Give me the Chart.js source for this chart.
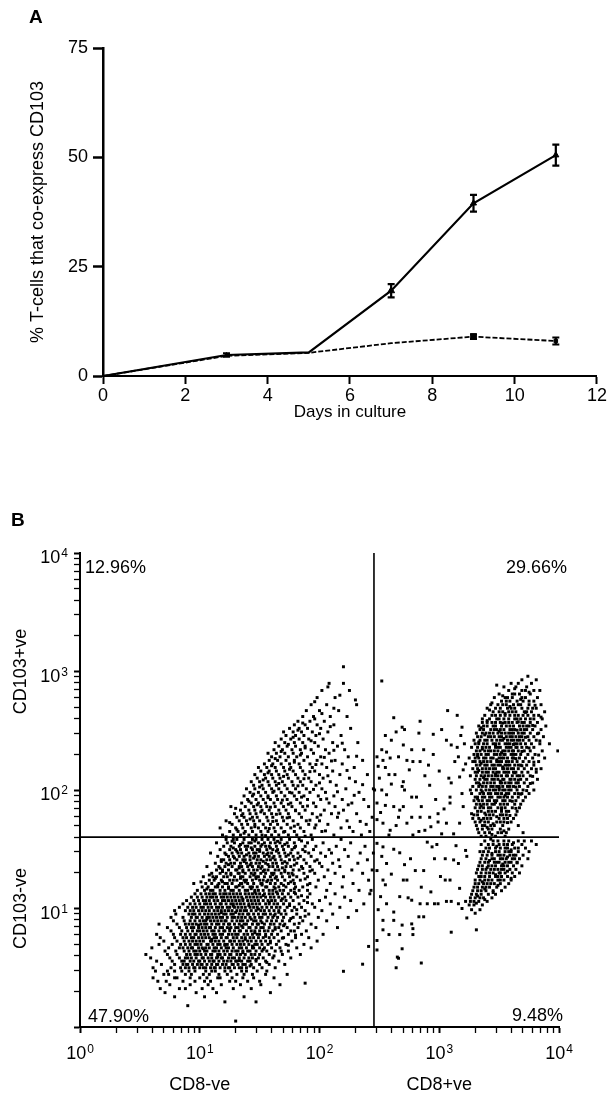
<!DOCTYPE html>
<html>
<head>
<meta charset="utf-8">
<script src="https://cdn.jsdelivr.net/npm/chart.js@4.4.0/dist/chart.umd.min.js"></script>
<style>
  html, body { margin: 0; padding: 0; background: #fff; }
  body { width: 608px; height: 1093px; position: relative; overflow: hidden; font-family: "Liberation Sans", Arial, sans-serif; }
  .panel { position: absolute; font-weight: bold; font-size: 19px; color: #000; line-height: 1.15; }
  #chartA { position: absolute; left: 0; top: 0; }
  #chartB { position: absolute; left: 0; top: 530px; }
</style>
</head>
<body>
<canvas id="chartA" width="608" height="430"></canvas>
<canvas id="chartB" width="608" height="563"></canvas>
<div class="panel" style="left:29px; top:6px">A</div>
<div class="panel" style="left:11px; top:509px">B</div>
<script>
const FONT = '"Liberation Sans", Arial, sans-serif';
Chart.defaults.font.family = FONT;
Chart.defaults.color = '#000';

// ---- panel A: % T-cells co-expressing CD103 over time ----
const days = [0, 3, 5, 7, 9, 11];
const cd103Upper = [0, 4.8, 5.4, 19.5, 39.5, 50.5];
const upperErr = [0, 0.4, 0, 1.5, 1.9, 2.4];
const cd103Lower = [0, 4.6, 5.3, 7.5, 9.0, 8.0];
const lowerErr = [0, 0, 0, 0, 0.5, 0.8];
const xTicksA = [0, 2, 4, 6, 8, 10, 12];
const yTicksA = [0, 25, 50, 75];

// ---- panel B: CD8 vs CD103 flow cytometry dot plot ----
// rows: [log10 CD103, log10 CD8 of each event in that row ...]
const cd8negFringe = [
  [0.050, 1.30],
  [0.180, 0.90],
  [0.212, 1.21, 1.47],
  [0.255, 0.79, 1.04, 1.37],
  [0.290, 0.71, 0.97, 1.14, 1.59],
  [0.324, 0.67, 0.83, 0.88, 1.02, 1.11, 1.28, 1.43],
  [0.357, 0.75, 0.92, 1.07, 1.18, 1.34, 1.51, 1.67],
  [0.386, 0.65, 0.72, 0.86, 0.96, 1.04, 1.09, 1.25, 1.30, 1.40, 1.50],
  [0.415, 0.61, 0.79, 0.81, 0.92, 1.00, 1.06, 1.15, 1.17, 1.27, 1.36, 1.45, 1.62],
  [0.444, 0.70, 0.74, 0.88, 0.93, 1.03, 1.08, 1.16, 1.23, 1.31, 1.37, 1.44, 1.55, 1.73],
  [0.472, 0.63, 0.73, 0.79, 0.85, 0.91, 0.96, 1.05, 1.10, 1.13, 1.21, 1.26, 1.35, 1.39, 1.48, 1.56]
];

const cd8negCore = [
  [0.500, 0.61, 0.76, 0.84, 0.88, 0.91, 0.95, 0.96, 1.00, 1.03, 1.05, 1.09, 1.12, 1.13, 1.17, 1.21, 1.24, 1.25, 1.29, 1.33, 1.35, 1.39, 1.45, 1.52, 1.63],
  [0.528, 0.68, 0.79, 0.86, 0.89, 0.90, 0.94, 0.98, 1.01, 1.02, 1.06, 1.10, 1.14, 1.15, 1.19, 1.22, 1.27, 1.28, 1.32, 1.36, 1.38, 1.43, 1.50, 1.58, 1.71],
  [0.556, 0.64, 0.77, 0.85, 0.87, 0.92, 0.95, 0.99, 1.00, 1.04, 1.08, 1.11, 1.12, 1.16, 1.20, 1.23, 1.26, 1.30, 1.31, 1.35, 1.40, 1.42, 1.47, 1.55, 1.66],
  [0.583, 0.59, 0.75, 0.83, 0.88, 0.90, 0.93, 0.97, 1.02, 1.03, 1.07, 1.10, 1.14, 1.18, 1.19, 1.24, 1.27, 1.29, 1.33, 1.37, 1.41, 1.44, 1.49, 1.53, 1.61, 1.76],
  [0.612, 0.55, 0.73, 0.81, 0.89, 0.92, 0.96, 0.98, 1.01, 1.05, 1.09, 1.10, 1.15, 1.17, 1.21, 1.25, 1.26, 1.31, 1.34, 1.38, 1.43, 1.46, 1.50, 1.58, 1.69, 1.84],
  [0.641, 0.71, 0.80, 0.87, 0.91, 0.95, 0.97, 1.00, 1.04, 1.06, 1.11, 1.13, 1.16, 1.20, 1.23, 1.27, 1.30, 1.32, 1.36, 1.40, 1.42, 1.47, 1.52, 1.56, 1.63, 1.74],
  [0.668, 0.60, 0.74, 0.83, 0.86, 0.90, 0.93, 0.94, 0.99, 1.02, 1.05, 1.08, 1.12, 1.14, 1.18, 1.22, 1.24, 1.28, 1.33, 1.35, 1.39, 1.44, 1.45, 1.50, 1.54, 1.60, 1.67, 1.81, 1.93],
  [0.697, 0.66, 0.77, 0.84, 0.88, 0.92, 0.96, 0.98, 1.01, 1.06, 1.07, 1.11, 1.15, 1.17, 1.21, 1.23, 1.27, 1.31, 1.34, 1.37, 1.41, 1.46, 1.48, 1.52, 1.57, 1.64, 1.72, 1.87],
  [0.725, 0.70, 0.81, 0.87, 0.91, 0.94, 0.97, 1.00, 1.03, 1.09, 1.10, 1.13, 1.16, 1.20, 1.25, 1.26, 1.29, 1.33, 1.36, 1.40, 1.43, 1.47, 1.51, 1.55, 1.59, 1.66, 1.77, 1.98],
  [0.754, 0.67, 0.79, 0.86, 0.89, 0.93, 0.95, 0.99, 1.02, 1.05, 1.08, 1.12, 1.14, 1.18, 1.22, 1.23, 1.28, 1.31, 1.35, 1.38, 1.42, 1.45, 1.49, 1.53, 1.58, 1.62, 1.70, 1.80, 1.91],
  [0.782, 0.64, 0.78, 0.84, 0.88, 0.92, 0.96, 0.97, 1.01, 1.04, 1.07, 1.11, 1.13, 1.17, 1.19, 1.24, 1.27, 1.30, 1.32, 1.37, 1.40, 1.44, 1.48, 1.50, 1.55, 1.60, 1.65, 1.74, 1.85, 2.03],
  [0.811, 0.76, 0.85, 0.90, 0.94, 0.98, 1.00, 1.03, 1.06, 1.10, 1.12, 1.16, 1.20, 1.21, 1.25, 1.29, 1.33, 1.34, 1.39, 1.43, 1.46, 1.50, 1.54, 1.57, 1.61, 1.68, 1.76, 1.89],
  [0.839, 0.73, 0.83, 0.89, 0.93, 0.95, 0.99, 1.02, 1.05, 1.08, 1.09, 1.13, 1.17, 1.19, 1.23, 1.26, 1.30, 1.32, 1.36, 1.41, 1.42, 1.47, 1.51, 1.53, 1.58, 1.63, 1.66, 1.73, 1.82, 1.97, 2.15],
  [0.868, 0.66, 0.81, 0.88, 0.91, 0.94, 0.97, 1.01, 1.04, 1.06, 1.10, 1.14, 1.16, 1.20, 1.24, 1.25, 1.29, 1.33, 1.37, 1.39, 1.44, 1.48, 1.49, 1.54, 1.59, 1.62, 1.67, 1.71, 1.79, 1.93],
  [0.896, 0.78, 0.87, 0.92, 0.96, 1.00, 1.03, 1.05, 1.09, 1.12, 1.15, 1.18, 1.21, 1.22, 1.27, 1.31, 1.34, 1.36, 1.40, 1.45, 1.47, 1.51, 1.56, 1.60, 1.64, 1.69, 1.75, 1.86, 2.06],
  [0.925, 0.76, 0.86, 0.93, 0.97, 0.98, 1.02, 1.06, 1.08, 1.11, 1.14, 1.17, 1.19, 1.23, 1.27, 1.29, 1.32, 1.35, 1.38, 1.42, 1.46, 1.50, 1.52, 1.57, 1.61, 1.65, 1.70, 1.78, 1.84, 1.99, 2.24],
  [0.953, 0.80, 0.91, 0.94, 0.96, 1.00, 1.04, 1.07, 1.10, 1.13, 1.16, 1.20, 1.22, 1.26, 1.28, 1.33, 1.36, 1.40, 1.41, 1.45, 1.49, 1.53, 1.55, 1.59, 1.63, 1.68, 1.72, 1.81, 1.91, 2.11],
  [0.982, 0.79, 0.88, 0.92, 0.95, 0.99, 1.02, 1.05, 1.08, 1.12, 1.15, 1.18, 1.21, 1.24, 1.27, 1.31, 1.34, 1.37, 1.39, 1.43, 1.47, 1.51, 1.54, 1.58, 1.62, 1.66, 1.71, 1.77, 1.88, 2.02, 2.31],
  [1.010, 0.83, 0.90, 0.94, 0.97, 1.01, 1.03, 1.07, 1.10, 1.14, 1.16, 1.19, 1.23, 1.25, 1.29, 1.32, 1.35, 1.38, 1.42, 1.45, 1.48, 1.52, 1.56, 1.60, 1.64, 1.67, 1.73, 1.79, 1.85, 1.96, 2.17],
  [1.039, 0.86, 0.92, 0.96, 1.00, 1.04, 1.06, 1.09, 1.13, 1.17, 1.18, 1.22, 1.26, 1.28, 1.31, 1.34, 1.37, 1.41, 1.44, 1.47, 1.50, 1.55, 1.58, 1.62, 1.65, 1.70, 1.75, 1.83, 1.94, 2.09, 2.37],
  [1.067, 0.89, 0.95, 0.99, 1.03, 1.05, 1.08, 1.12, 1.15, 1.19, 1.21, 1.24, 1.27, 1.30, 1.33, 1.36, 1.40, 1.43, 1.46, 1.49, 1.53, 1.57, 1.60, 1.63, 1.68, 1.72, 1.78, 1.87, 2.00, 2.26],
  [1.096, 0.93, 0.98, 1.02, 1.06, 1.09, 1.11, 1.14, 1.18, 1.20, 1.23, 1.26, 1.29, 1.32, 1.35, 1.39, 1.42, 1.45, 1.48, 1.51, 1.55, 1.59, 1.62, 1.66, 1.71, 1.76, 1.82, 1.90, 2.05, 2.21],
  [1.124, 0.96, 1.01, 1.05, 1.08, 1.11, 1.13, 1.17, 1.20, 1.22, 1.25, 1.28, 1.31, 1.34, 1.38, 1.41, 1.44, 1.47, 1.50, 1.54, 1.58, 1.61, 1.65, 1.69, 1.74, 1.80, 1.92, 2.13, 2.42]
];

const cd8negBand = [
  [1.153, 0.98, 1.04, 1.09, 1.11, 1.17, 1.21, 1.26, 1.28, 1.33, 1.38, 1.40, 1.46, 1.49, 1.53, 1.58, 1.61, 1.67, 1.70, 1.76, 1.83, 1.90, 2.06, 2.33, 2.43],
  [1.182, 1.02, 1.07, 1.13, 1.15, 1.19, 1.24, 1.30, 1.31, 1.36, 1.42, 1.44, 1.48, 1.55, 1.56, 1.62, 1.66, 1.72, 1.80, 1.86, 1.97, 2.19],
  [1.211, 0.95, 1.05, 1.10, 1.16, 1.21, 1.23, 1.27, 1.34, 1.35, 1.40, 1.45, 1.51, 1.52, 1.59, 1.63, 1.68, 1.74, 1.79, 1.92, 2.09, 2.28],
  [1.239, 1.08, 1.12, 1.18, 1.25, 1.28, 1.31, 1.37, 1.39, 1.44, 1.50, 1.53, 1.57, 1.60, 1.65, 1.71, 1.78, 1.84, 1.99, 2.41],
  [1.268, 1.03, 1.11, 1.14, 1.20, 1.23, 1.29, 1.34, 1.36, 1.42, 1.47, 1.49, 1.54, 1.59, 1.64, 1.69, 1.75, 1.81, 1.90, 2.04, 2.20],
  [1.297, 1.10, 1.17, 1.22, 1.26, 1.32, 1.33, 1.38, 1.43, 1.46, 1.51, 1.55, 1.60, 1.62, 1.68, 1.74, 1.77, 1.87, 1.96, 2.13, 2.36],
  [1.325, 1.14, 1.19, 1.24, 1.30, 1.31, 1.36, 1.41, 1.45, 1.48, 1.54, 1.57, 1.63, 1.66, 1.71, 1.78, 1.83, 1.94, 2.07, 2.27, 2.44],
  [1.354, 1.06, 1.16, 1.21, 1.27, 1.33, 1.35, 1.40, 1.44, 1.49, 1.52, 1.58, 1.61, 1.65, 1.72, 1.76, 1.85, 1.92, 2.02, 2.17],
  [1.382, 1.13, 1.22, 1.26, 1.29, 1.34, 1.39, 1.43, 1.47, 1.50, 1.55, 1.61, 1.64, 1.69, 1.73, 1.81, 1.89, 2.00, 2.11, 2.32],
  [1.411, 1.18, 1.20, 1.25, 1.31, 1.36, 1.38, 1.42, 1.48, 1.51, 1.56, 1.59, 1.63, 1.68, 1.75, 1.79, 1.87, 1.98, 2.16, 2.40],
  [1.440, 1.15, 1.24, 1.28, 1.33, 1.37, 1.42, 1.46, 1.49, 1.54, 1.58, 1.62, 1.67, 1.72, 1.78, 1.84, 1.93, 2.05, 2.24],
  [1.468, 1.09, 1.21, 1.27, 1.32, 1.35, 1.41, 1.45, 1.47, 1.53, 1.57, 1.60, 1.66, 1.71, 1.76, 1.82, 1.91, 2.01, 2.10, 2.34, 2.45],
  [1.497, 1.17, 1.25, 1.30, 1.34, 1.39, 1.44, 1.48, 1.50, 1.56, 1.61, 1.65, 1.70, 1.77, 1.86, 1.95, 2.08, 2.21],
  [1.525, 1.20, 1.26, 1.33, 1.38, 1.40, 1.46, 1.51, 1.55, 1.58, 1.64, 1.69, 1.74, 1.80, 1.88, 1.97, 2.14, 2.38],
  [1.554, 1.14, 1.23, 1.29, 1.36, 1.41, 1.43, 1.49, 1.54, 1.59, 1.63, 1.67, 1.73, 1.79, 1.90, 2.03, 2.26],
  [1.583, 1.22, 1.28, 1.31, 1.37, 1.44, 1.47, 1.52, 1.57, 1.62, 1.68, 1.75, 1.83, 1.94, 2.18]
];

const cd8negUpperRows = [
  [1.62, 1.19, 1.28, 1.34, 1.41, 1.47, 1.52, 1.60, 1.66, 1.74, 1.81, 1.93, 2.12, 2.35],
  [1.65, 1.25, 1.32, 1.38, 1.44, 1.51, 1.57, 1.63, 1.71, 1.79, 1.87, 2.02, 2.28, 2.42],
  [1.68, 1.17, 1.30, 1.36, 1.43, 1.49, 1.55, 1.62, 1.68, 1.76, 1.84, 1.96, 2.18],
  [1.71, 1.27, 1.35, 1.40, 1.46, 1.53, 1.59, 1.65, 1.73, 1.82, 1.91, 2.07, 2.39],
  [1.74, 1.22, 1.33, 1.39, 1.45, 1.50, 1.57, 1.64, 1.70, 1.78, 1.89, 2.00, 2.23],
  [1.77, 1.31, 1.37, 1.44, 1.48, 1.56, 1.61, 1.69, 1.75, 1.85, 1.98, 2.15, 2.44],
  [1.80, 1.29, 1.36, 1.42, 1.47, 1.54, 1.60, 1.67, 1.74, 1.83, 1.94, 2.10, 2.31],
  [1.83, 1.34, 1.41, 1.46, 1.52, 1.58, 1.66, 1.72, 1.80, 1.88, 2.04, 2.20],
  [1.86, 1.26, 1.38, 1.45, 1.51, 1.56, 1.63, 1.70, 1.77, 1.86, 1.97, 2.13, 2.41],
  [1.89, 1.35, 1.43, 1.49, 1.55, 1.62, 1.68, 1.76, 1.84, 1.95, 2.08, 2.27],
  [1.92, 1.40, 1.47, 1.53, 1.59, 1.65, 1.73, 1.81, 1.90, 2.01, 2.19, 2.37],
  [1.95, 1.37, 1.44, 1.51, 1.57, 1.64, 1.71, 1.79, 1.87, 1.99, 2.12],
  [1.98, 1.42, 1.49, 1.55, 1.61, 1.68, 1.75, 1.83, 1.92, 2.05, 2.33],
  [2.01, 1.39, 1.46, 1.53, 1.60, 1.66, 1.73, 1.80, 1.89, 2.02, 2.22, 2.45],
  [2.04, 1.45, 1.52, 1.58, 1.64, 1.71, 1.78, 1.86, 1.97, 2.14],
  [2.07, 1.43, 1.50, 1.57, 1.63, 1.69, 1.77, 1.84, 1.93, 2.09, 2.30],
  [2.10, 1.48, 1.55, 1.61, 1.67, 1.74, 1.82, 1.91, 2.03, 2.25],
  [2.13, 1.46, 1.54, 1.60, 1.66, 1.73, 1.80, 1.88, 2.00, 2.17, 2.40],
  [2.16, 1.51, 1.58, 1.64, 1.71, 1.78, 1.86, 1.96, 2.11],
  [2.19, 1.49, 1.56, 1.63, 1.70, 1.76, 1.84, 1.94, 2.06, 2.29],
  [2.22, 1.54, 1.61, 1.68, 1.75, 1.83, 1.92, 2.02, 2.19],
  [2.25, 1.58, 1.65, 1.72, 1.79, 1.87, 1.98, 2.13, 2.36],
  [2.28, 1.60, 1.67, 1.74, 1.81, 1.90, 2.01, 2.24],
  [2.31, 1.57, 1.64, 1.71, 1.78, 1.85, 1.95, 2.08],
  [2.34, 1.62, 1.69, 1.77, 1.84, 1.93, 2.05, 2.21],
  [2.37, 1.66, 1.73, 1.80, 1.88, 1.99, 2.15],
  [2.40, 1.63, 1.71, 1.79, 1.86, 1.96, 2.11, 2.32],
  [2.43, 1.68, 1.76, 1.83, 1.91, 2.03],
  [2.46, 1.72, 1.80, 1.87, 1.97, 2.18],
  [2.49, 1.70, 1.78, 1.85, 1.94, 2.07],
  [2.52, 1.75, 1.83, 1.90, 2.01, 2.26],
  [2.55, 1.79, 1.88, 1.98, 2.12],
  [2.58, 1.82, 1.92, 2.04],
  [2.62, 1.86, 1.95, 2.09, 2.23],
  [2.67, 1.89, 2.00, 2.16],
  [2.72, 1.93, 2.06, 2.31],
  [2.78, 1.98, 2.13],
  [2.84, 2.02, 2.25],
  [2.90, 2.08, 2.20],
  [3.04, 2.20]
];

// single events, [log10 CD8, log10 CD103, ...]
const cd8negCoreExtra = [
  1.42,0.515, 1.56,0.545, 1.47,0.57, 1.62,0.60, 1.36,0.627, 1.53,0.655, 1.68,0.64, 1.44,0.683, 1.59,0.71, 1.74,0.69,
  1.38,0.74, 1.55,0.765, 1.69,0.75, 1.80,0.775, 1.46,0.795, 1.63,0.825, 1.79,0.81, 1.35,0.853, 1.52,0.88, 1.70,0.855,
  1.83,0.875, 1.43,0.91, 1.62,0.94, 1.76,0.915, 1.88,0.935, 1.30,0.967, 1.49,0.995, 1.66,0.968, 1.81,0.99, 1.41,1.024,
  1.58,1.052, 1.75,1.025, 1.90,1.05, 1.36,1.08, 1.53,1.11, 1.69,1.082, 1.85,1.108, 1.46,1.138, 1.64,1.14, 1.79,1.135,
  1.18,0.965, 1.10,0.74, 1.25,0.83, 1.06,0.91, 1.21,0.69, 1.15,0.59, 0.99,0.86, 1.28,1.02, 1.03,0.66, 1.33,0.56
];
const cd8negBandExtra = [
  1.06,1.165, 1.24,1.17, 1.43,1.167, 1.63,1.17, 1.79,1.165, 1.15,1.197, 1.33,1.195, 1.52,1.198, 1.70,1.196, 1.90,1.20,
  1.01,1.225, 1.19,1.226, 1.38,1.224, 1.56,1.227, 1.76,1.225, 1.13,1.254, 1.34,1.255, 1.47,1.252, 1.63,1.256, 1.88,1.25,
  1.08,1.283, 1.26,1.284, 1.45,1.282, 1.61,1.285, 1.78,1.283, 1.19,1.312, 1.36,1.31, 1.53,1.313, 1.71,1.31, 1.92,1.315,
  1.17,1.34, 1.33,1.342, 1.51,1.339, 1.69,1.343, 1.86,1.338, 1.24,1.37, 1.42,1.368, 1.57,1.371, 1.79,1.367,
  1.18,1.397, 1.37,1.396, 1.53,1.398, 1.71,1.395, 1.96,1.40, 1.29,1.426, 1.45,1.425, 1.61,1.427, 1.82,1.424,
  1.22,1.455, 1.39,1.453, 1.56,1.456, 1.74,1.452, 1.31,1.483, 1.50,1.482, 1.64,1.484, 1.88,1.48,
  1.28,1.511, 1.43,1.512, 1.59,1.51, 1.79,1.513, 1.34,1.54, 1.52,1.539, 1.71,1.541, 1.27,1.568, 1.46,1.569, 1.65,1.567, 1.85,1.57
];
const cd8negUpperExtra = [
  1.22,1.605, 1.37,1.635, 1.55,1.615, 1.70,1.645, 1.88,1.61, 2.05,1.655, 1.31,1.665, 1.46,1.69, 1.58,1.675, 1.79,1.695, 1.97,1.705, 2.25,1.685,
  1.25,1.725, 1.42,1.755, 1.61,1.735, 1.73,1.765, 1.92,1.745, 2.34,1.735, 1.35,1.785, 1.51,1.815, 1.64,1.795, 1.80,1.825, 2.01,1.79, 2.16,1.805,
  1.30,1.845, 1.48,1.875, 1.59,1.855, 1.74,1.88, 1.90,1.865, 2.24,1.875, 1.41,1.905, 1.57,1.935, 1.69,1.915, 1.85,1.94, 2.06,1.925, 2.29,1.955,
  1.45,1.965, 1.62,1.99, 1.77,1.975, 1.95,2.005, 2.15,1.985, 1.50,2.025, 1.66,2.055, 1.82,2.035, 2.00,2.06, 2.36,2.045, 1.53,2.085, 1.70,2.115,
  1.87,2.095, 2.07,2.12, 1.57,2.145, 1.75,2.175, 1.92,2.155, 2.23,2.165, 1.60,2.205, 1.79,2.235, 1.97,2.215, 2.10,2.245, 1.63,2.265, 1.84,2.295,
  2.04,2.275, 2.31,2.285, 1.68,2.325, 1.88,2.355, 2.12,2.335, 1.74,2.385, 1.93,2.415, 2.19,2.395, 1.78,2.445, 2.00,2.475, 1.82,2.505, 2.09,2.535,
  1.86,2.565, 1.96,2.60, 2.02,2.645, 2.12,2.69, 1.96,2.745, 2.17,2.80, 2.07,2.87, 2.30,2.76
];

// scattered events between the two populations: [log10 CD8, log10 CD103, ...]
const midUpper = [
  2.52,2.92, 2.84,2.58, 3.07,2.67, 3.15,2.63, 2.69,2.53, 2.71,2.51, 2.64,2.49, 2.55,2.46, 2.60,2.42,
  2.83,2.48, 3.02,2.51, 3.06,2.42, 3.19,2.53, 3.18,2.46, 3.10,2.38, 3.15,2.36, 3.21,2.39, 2.70,2.38,
  2.77,2.34, 2.87,2.34, 2.95,2.30, 2.52,2.34, 2.56,2.32, 2.48,2.28, 2.53,2.25, 2.59,2.27, 2.66,2.28,
  2.73,2.25, 2.78,2.24, 2.84,2.24, 2.91,2.21, 2.49,2.20, 2.55,2.19, 2.58,2.13, 2.63,2.13, 2.50,2.10,
  2.70,2.07, 2.69,2.03, 2.71,2.00, 2.77,1.94, 2.81,1.94, 2.92,2.04, 3.08,2.10, 3.10,2.06, 3.09,1.94,
  3.19,1.97, 3.20,1.86, 3.09,1.89, 2.46,2.00, 2.52,2.00, 2.56,1.96, 2.48,1.89, 2.55,1.87, 2.62,1.86,
  2.67,1.83, 2.70,1.86, 2.66,1.77, 2.73,1.72, 2.77,1.77, 2.85,1.86, 2.84,1.77, 2.92,1.77, 2.99,1.80,
  2.48,1.75, 2.53,1.72, 2.59,1.66, 2.83,1.65, 2.88,1.66, 3.02,1.63, 3.12,1.63, 3.17,1.72, 2.58,1.62,
  2.78,1.62, 2.99,1.73, 3.06,1.72, 3.17,2.11, 3.20,2.17, 3.22,2.22, 3.16,2.28, 2.62,2.61, 2.95,2.47,
  3.00,2.16, 2.88,2.12, 2.60,2.05, 2.97,1.92, 2.75,2.17, 3.13,2.24, 2.51,1.81, 2.64,1.70, 3.04,1.84,
  2.93,1.69
];
const midLower = [
  2.48,1.55, 2.53,1.52, 2.52,1.44, 2.56,1.38, 2.48,1.32, 2.67,1.47, 2.76,1.42, 2.71,1.37, 2.80,1.32,
  2.87,1.32, 2.90,1.56, 2.94,1.52, 2.98,1.54, 2.96,1.42, 3.05,1.42, 3.12,1.41, 3.01,1.27, 3.05,1.24,
  3.09,1.24, 3.16,1.38, 3.22,1.49, 3.23,1.44, 2.53,1.24, 2.55,1.20, 2.51,1.10, 2.56,1.04, 2.49,0.99,
  2.70,1.24, 2.73,1.24, 2.67,1.10, 2.74,1.09, 2.77,1.07, 2.84,1.04, 2.90,1.04, 2.96,1.04, 2.99,1.04,
  3.06,1.06, 3.10,1.06, 3.16,1.04, 3.17,1.17, 3.22,1.06, 3.19,1.00, 2.62,0.97, 2.53,0.90, 2.62,0.90,
  2.69,0.86, 2.77,0.87, 2.87,0.93, 2.78,0.83, 2.83,0.93, 2.53,0.82, 2.58,0.78, 2.67,0.78, 2.78,0.78,
  3.10,0.80, 3.31,0.82, 3.23,0.92, 2.48,0.73, 2.69,0.66, 2.48,0.65, 2.66,0.58, 2.64,0.50, 2.85,0.54,
  2.65,0.59, 2.36,0.53, 2.20,0.47, 1.88,0.37, 2.41,0.68, 2.62,1.50, 2.85,1.18, 2.60,1.29, 3.14,1.53,
  2.93,1.14
];

const cd8posUpperRows = [
  [2.96, 3.74],
  [2.93, 3.69, 3.81],
  [2.90, 3.60, 3.66, 3.77],
  [2.87, 3.54, 3.64, 3.73],
  [2.84, 3.58, 3.69, 3.72, 3.79, 3.84],
  [2.81, 3.50, 3.61, 3.63, 3.67, 3.76],
  [2.78, 3.46, 3.55, 3.57, 3.61, 3.69, 3.72, 3.82],
  [2.75, 3.52, 3.56, 3.59, 3.65, 3.70, 3.75, 3.79],
  [2.72, 3.43, 3.49, 3.53, 3.56, 3.62, 3.66, 3.68, 3.75, 3.85],
  [2.69, 3.40, 3.47, 3.51, 3.57, 3.60, 3.63, 3.69, 3.74, 3.78, 3.81],
  [2.66, 3.45, 3.50, 3.53, 3.58, 3.61, 3.64, 3.71, 3.73, 3.77, 3.88],
  [2.63, 3.38, 3.44, 3.47, 3.51, 3.55, 3.59, 3.63, 3.66, 3.70, 3.74, 3.79, 3.83],
  [2.60, 3.36, 3.42, 3.48, 3.50, 3.54, 3.58, 3.63, 3.65, 3.68, 3.72, 3.76, 3.79, 3.86],
  [2.57, 3.36, 3.40, 3.44, 3.47, 3.51, 3.55, 3.58, 3.61, 3.65, 3.69, 3.71, 3.76, 3.82],
  [2.54, 3.33, 3.37, 3.40, 3.45, 3.47, 3.52, 3.56, 3.59, 3.62, 3.67, 3.70, 3.73, 3.75, 3.80, 3.89],
  [2.51, 3.34, 3.37, 3.43, 3.46, 3.48, 3.51, 3.54, 3.59, 3.61, 3.63, 3.68, 3.71, 3.73, 3.78, 3.85],
  [2.48, 3.31, 3.36, 3.39, 3.42, 3.45, 3.49, 3.52, 3.55, 3.58, 3.60, 3.62, 3.66, 3.69, 3.71, 3.76, 3.83],
  [2.45, 3.32, 3.35, 3.41, 3.43, 3.46, 3.50, 3.52, 3.56, 3.59, 3.61, 3.64, 3.67, 3.69, 3.74, 3.79, 3.87],
  [2.42, 3.29, 3.34, 3.38, 3.40, 3.44, 3.48, 3.51, 3.53, 3.57, 3.60, 3.62, 3.65, 3.67, 3.70, 3.75, 3.81],
  [2.39, 3.30, 3.33, 3.37, 3.40, 3.45, 3.47, 3.50, 3.55, 3.57, 3.59, 3.63, 3.65, 3.68, 3.72, 3.77, 3.84, 3.92],
  [2.36, 3.27, 3.32, 3.36, 3.39, 3.42, 3.47, 3.49, 3.51, 3.56, 3.58, 3.60, 3.64, 3.65, 3.69, 3.73, 3.79],
  [2.33, 3.31, 3.34, 3.38, 3.41, 3.43, 3.46, 3.49, 3.53, 3.55, 3.58, 3.61, 3.62, 3.66, 3.71, 3.76, 3.86, 3.99],
  [2.30, 3.29, 3.32, 3.35, 3.39, 3.41, 3.46, 3.48, 3.51, 3.54, 3.55, 3.60, 3.62, 3.64, 3.68, 3.74, 3.80],
  [2.27, 3.25, 3.30, 3.33, 3.37, 3.39, 3.43, 3.45, 3.50, 3.52, 3.54, 3.57, 3.61, 3.62, 3.67, 3.72, 3.78, 3.88],
  [2.24, 3.28, 3.30, 3.34, 3.37, 3.40, 3.43, 3.48, 3.50, 3.52, 3.56, 3.58, 3.61, 3.65, 3.70, 3.75, 3.83],
  [2.21, 3.31, 3.34, 3.38, 3.40, 3.44, 3.46, 3.49, 3.51, 3.55, 3.57, 3.59, 3.63, 3.66, 3.68, 3.73, 3.79],
  [2.18, 3.28, 3.32, 3.36, 3.39, 3.42, 3.45, 3.47, 3.53, 3.54, 3.57, 3.60, 3.62, 3.66, 3.71, 3.77, 3.85],
  [2.15, 3.30, 3.32, 3.36, 3.39, 3.41, 3.45, 3.48, 3.50, 3.54, 3.56, 3.58, 3.62, 3.64, 3.69, 3.74, 3.81],
  [2.12, 3.26, 3.31, 3.35, 3.38, 3.41, 3.44, 3.47, 3.49, 3.52, 3.56, 3.57, 3.61, 3.65, 3.67, 3.70, 3.76],
  [2.09, 3.30, 3.34, 3.38, 3.40, 3.44, 3.46, 3.49, 3.53, 3.54, 3.59, 3.60, 3.63, 3.68, 3.73, 3.82],
  [2.06, 3.31, 3.33, 3.37, 3.40, 3.43, 3.46, 3.51, 3.52, 3.55, 3.58, 3.60, 3.64, 3.66, 3.71, 3.78],
  [2.03, 3.28, 3.33, 3.36, 3.39, 3.43, 3.45, 3.48, 3.50, 3.53, 3.57, 3.59, 3.62, 3.67, 3.74],
  [2.00, 3.31, 3.35, 3.39, 3.42, 3.45, 3.47, 3.50, 3.53, 3.55, 3.58, 3.60, 3.65, 3.70, 3.79],
  [1.97, 3.27, 3.34, 3.37, 3.41, 3.43, 3.47, 3.49, 3.52, 3.56, 3.58, 3.63, 3.66, 3.69, 3.75],
  [1.94, 3.30, 3.32, 3.36, 3.38, 3.42, 3.44, 3.49, 3.51, 3.54, 3.57, 3.61, 3.66, 3.72],
  [1.91, 3.29, 3.33, 3.36, 3.40, 3.42, 3.46, 3.48, 3.53, 3.55, 3.59, 3.64, 3.70],
  [1.88, 3.31, 3.34, 3.37, 3.40, 3.44, 3.46, 3.51, 3.54, 3.57, 3.63, 3.68],
  [1.85, 3.30, 3.34, 3.37, 3.41, 3.43, 3.49, 3.52, 3.55, 3.61, 3.67],
  [1.82, 3.32, 3.35, 3.41, 3.44, 3.47, 3.52, 3.56, 3.58, 3.65],
  [1.79, 3.29, 3.32, 3.39, 3.42, 3.45, 3.51, 3.53, 3.56, 3.64],
  [1.76, 3.28, 3.33, 3.37, 3.40, 3.43, 3.50, 3.54, 3.57, 3.62],
  [1.73, 3.30, 3.34, 3.38, 3.41, 3.48, 3.51, 3.54, 3.60],
  [1.70, 3.31, 3.36, 3.38, 3.43, 3.46, 3.53, 3.66],
  [1.67, 3.32, 3.36, 3.41, 3.44, 3.51, 3.58],
  [1.64, 3.33, 3.38, 3.42, 3.49, 3.52, 3.56, 3.70],
  [1.61, 3.35, 3.39, 3.47, 3.55]
];
const cd8posUpperExtra = [
  3.48,2.885, 3.63,2.855, 3.75,2.825, 3.53,2.795, 3.68,2.765, 3.44,2.735, 3.59,2.705, 3.80,2.715, 3.42,2.675, 3.55,2.645, 3.72,2.655, 3.85,2.615,
  3.40,2.585, 3.53,2.565, 3.66,2.575, 3.78,2.545, 3.35,2.525, 3.50,2.495, 3.65,2.505, 3.82,2.475, 3.38,2.465, 3.54,2.435, 3.72,2.445, 3.84,2.415,
  3.33,2.405, 3.47,2.375, 3.62,2.385, 3.75,2.355, 3.36,2.345, 3.52,2.315, 3.69,2.325, 3.83,2.295, 3.32,2.285, 3.48,2.255, 3.64,2.265, 3.79,2.235,
  3.35,2.225, 3.53,2.195, 3.69,2.205, 3.81,2.175, 3.33,2.165, 3.47,2.135, 3.63,2.145, 3.78,2.115, 3.37,2.105, 3.51,2.075, 3.66,2.085, 3.76,2.055,
  3.34,2.045, 3.50,2.015, 3.64,2.025, 3.73,1.995, 3.36,1.985, 3.55,1.955, 3.68,1.965, 3.32,1.925, 3.47,1.895, 3.61,1.905, 3.35,1.865, 3.52,1.835,
  3.64,1.845, 3.38,1.805, 3.48,1.775, 3.59,1.785, 3.35,1.745, 3.45,1.715, 3.57,1.725, 3.40,1.685, 3.54,1.655, 3.44,1.625, 3.27,1.80, 3.26,2.00
];

const cd8posLowerRows = [
  [1.57, 3.38, 3.45, 3.49, 3.54, 3.58, 3.66, 3.71, 3.77],
  [1.54, 3.35, 3.41, 3.45, 3.50, 3.54, 3.57, 3.61, 3.69, 3.81],
  [1.51, 3.39, 3.42, 3.47, 3.51, 3.55, 3.57, 3.63, 3.66, 3.72],
  [1.48, 3.34, 3.37, 3.41, 3.47, 3.50, 3.55, 3.58, 3.60, 3.66, 3.75],
  [1.45, 3.36, 3.40, 3.44, 3.49, 3.51, 3.54, 3.59, 3.62, 3.64, 3.70],
  [1.42, 3.35, 3.39, 3.44, 3.46, 3.51, 3.53, 3.56, 3.61, 3.63, 3.67, 3.74],
  [1.39, 3.34, 3.38, 3.41, 3.46, 3.48, 3.50, 3.55, 3.58, 3.60, 3.65],
  [1.36, 3.33, 3.36, 3.41, 3.44, 3.47, 3.52, 3.54, 3.57, 3.62, 3.69],
  [1.33, 3.32, 3.36, 3.39, 3.43, 3.46, 3.49, 3.52, 3.54, 3.59, 3.64],
  [1.30, 3.31, 3.35, 3.39, 3.42, 3.45, 3.50, 3.51, 3.55, 3.61, 3.67],
  [1.27, 3.33, 3.35, 3.38, 3.42, 3.47, 3.49, 3.52, 3.57, 3.63],
  [1.24, 3.30, 3.34, 3.38, 3.41, 3.44, 3.49, 3.51, 3.54, 3.60],
  [1.21, 3.30, 3.33, 3.37, 3.40, 3.43, 3.46, 3.51, 3.58],
  [1.18, 3.29, 3.32, 3.36, 3.39, 3.42, 3.48, 3.55],
  [1.15, 3.28, 3.32, 3.35, 3.39, 3.45, 3.52],
  [1.12, 3.27, 3.31, 3.35, 3.41, 3.47],
  [1.09, 3.26, 3.30, 3.34, 3.37, 3.44],
  [1.06, 3.26, 3.29, 3.33, 3.40],
  [1.03, 3.25, 3.29, 3.36],
  [0.99, 3.27, 3.34],
  [0.96, 3.30]
];
const cd8posLowerExtra = [
  3.43,1.585, 3.62,1.555, 3.48,1.525, 3.60,1.495, 3.44,1.465, 3.57,1.435, 3.42,1.405, 3.53,1.375, 3.65,1.385, 3.40,1.345,
  3.57,1.315, 3.47,1.285, 3.60,1.255, 3.36,1.225, 3.49,1.195, 3.38,1.165, 3.45,1.135, 3.32,1.105, 3.38,1.075, 3.31,1.045
];

const gateCD8 = 285;     // vertical quadrant line
const gateCD103 = 40;    // horizontal quadrant line
const quadrantLabels = ['12.96%', '29.66%', '47.90%', '9.48%'];
const xTitlesB = ['CD8-ve', 'CD8+ve'];
const yTitlesB = ['CD103+ve', 'CD103-ve'];
const xDecades = [0, 1, 2, 3, 4];
const yDecades = [1, 2, 3, 4];

function rowsToPoints(rows) {
  const pts = [];
  rows.forEach(r => {
    for (let i = 1; i < r.length; i++) pts.push({ x: Math.pow(10, r[i]), y: Math.pow(10, r[0]) });
  });
  return pts;
}
function pairsToPoints(list) {
  const pts = [];
  for (let i = 0; i < list.length; i += 2) pts.push({ x: Math.pow(10, list[i]), y: Math.pow(10, list[i + 1]) });
  return pts;
}

// log ticks 1..9 x 10^n
const logTicks = [];
xDecades.forEach(d => {
  const top = d === 4 ? 1 : 9;
  for (let m = 1; m <= top; m++) logTicks.push({ value: m * Math.pow(10, d), major: m === 1 });
});

const errorBars = {
  id: 'errorBars',
  afterDatasetsDraw(chart) {
    const { ctx, scales: { x, y } } = chart;
    chart.data.datasets.forEach(ds => {
      if (!ds.errors) return;
      ctx.save();
      ctx.strokeStyle = '#000';
      ctx.lineWidth = 2.2;
      ds.data.forEach((p, i) => {
        const e = ds.errors[i];
        if (!e) return;
        const px = x.getPixelForValue(p.x);
        const top = y.getPixelForValue(p.y + e);
        const bot = y.getPixelForValue(p.y - e);
        ctx.beginPath();
        ctx.moveTo(px, top); ctx.lineTo(px, bot);
        ctx.moveTo(px - 3.5, top); ctx.lineTo(px + 3.5, top);
        ctx.moveTo(px - 3.5, bot); ctx.lineTo(px + 3.5, bot);
        ctx.stroke();
      });
      ctx.restore();
    });
  }
};

new Chart(document.getElementById('chartA'), {
  type: 'line',
  data: {
    datasets: [
      {
        data: days.map((d, i) => ({ x: d, y: cd103Upper[i] })),
        errors: upperErr,
        borderColor: '#000', borderWidth: 2.2, tension: 0,
        pointStyle: 'triangle', pointRadius: [0, 2.5, 0, 4, 3.5, 3.5],
        pointBackgroundColor: '#000', pointBorderColor: '#000', pointBorderWidth: 1
      },
      {
        data: days.map((d, i) => ({ x: d, y: cd103Lower[i] })),
        errors: lowerErr,
        borderColor: '#000', borderWidth: 1.8, borderDash: [5, 2], tension: 0,
        pointStyle: 'rect', pointRadius: [0, 0, 0, 0, 4, 2.5],
        pointBackgroundColor: '#000', pointBorderColor: '#000', pointBorderWidth: 1
      }
    ]
  },
  options: {
    responsive: false, animation: false, devicePixelRatio: 1, events: [],
    layout: { padding: { top: 48, right: 9, left: 0, bottom: 0 } },
    plugins: { legend: { display: false }, tooltip: { enabled: false } },
    scales: {
      x: {
        type: 'linear', min: 0, max: 12,
        afterFit: s => { s.height = 54; },
        afterBuildTicks: s => { s.ticks = xTicksA.map(v => ({ value: v })); },
        grid: { drawOnChartArea: false, drawTicks: true, tickLength: 8, tickWidth: 2, tickColor: '#000' },
        border: { display: true, color: '#000', width: 2 },
        ticks: { color: '#000', font: { size: 18 }, padding: 1, maxRotation: 0, autoSkip: false },
        title: { display: true, text: 'Days in culture', color: '#000', font: { size: 17 }, padding: { top: 0, bottom: 7 } }
      },
      y: {
        type: 'linear', min: 0, max: 75,
        afterFit: s => { s.width = 103; },
        afterBuildTicks: s => { s.ticks = yTicksA.map(v => ({ value: v })); },
        grid: { drawOnChartArea: false, drawTicks: true, tickLength: 10, tickWidth: 2.5, tickColor: '#000' },
        border: { display: true, color: '#000', width: 2.5 },
        ticks: { color: '#000', font: { size: 18 }, padding: 5, autoSkip: false },
        title: { display: true, text: '% T-cells that co-express CD103', color: '#000', font: { size: 18 }, padding: { top: 27, bottom: 0 } }
      }
    }
  },
  plugins: [errorBars]
});

// decade labels as 10 with a raised exponent, quadrant percentages and axis titles
function drawPower(ctx, exp, x, baseline, align) {
  ctx.font = '18px ' + FONT;
  const bw = ctx.measureText('10').width;
  ctx.font = '12px ' + FONT;
  const sw = ctx.measureText(String(exp)).width;
  const total = bw + 1 + sw;
  const start = align === 'center' ? x - total / 2 : x - total;
  ctx.textAlign = 'left';
  ctx.font = '18px ' + FONT;
  ctx.fillText('10', start, baseline);
  ctx.font = '12px ' + FONT;
  ctx.fillText(String(exp), start + bw + 1, baseline - 6);
}

const flowText = {
  id: 'flowText',
  afterDraw(chart) {
    const { ctx, chartArea: a, scales: { x, y } } = chart;
    ctx.save();
    ctx.fillStyle = '#000';
    ctx.textBaseline = 'alphabetic';
    xDecades.forEach(d => drawPower(ctx, d, x.getPixelForValue(Math.pow(10, d)), a.bottom + 32, 'center'));
    yDecades.forEach(d => drawPower(ctx, d, 68, y.getPixelForValue(Math.pow(10, d)) + 10, 'right'));
    ctx.font = '18px ' + FONT;
    ctx.textAlign = 'left';
    ctx.fillText(quadrantLabels[0], a.left + 5, a.top + 20);
    ctx.fillText(quadrantLabels[2], a.left + 8, a.bottom - 5);
    ctx.textAlign = 'right';
    ctx.fillText(quadrantLabels[1], a.right + 8, a.top + 20);
    ctx.fillText(quadrantLabels[3], a.right + 4, a.bottom - 6);
    ctx.textAlign = 'center';
    ctx.fillText(xTitlesB[0], x.getPixelForValue(10), a.bottom + 63);
    ctx.fillText(xTitlesB[1], x.getPixelForValue(1000), a.bottom + 63);
    [[yTitlesB[0], 1000], [yTitlesB[1], 10]].forEach(([t, v]) => {
      ctx.save();
      ctx.translate(26, y.getPixelForValue(v));
      ctx.rotate(-Math.PI / 2);
      ctx.fillText(t, 0, 0);
      ctx.restore();
    });
    ctx.restore();
  }
};

const events = rowsToPoints(cd8negFringe)
  .concat(rowsToPoints(cd8negCore))
  .concat(pairsToPoints(cd8negCoreExtra))
  .concat(rowsToPoints(cd8negBand))
  .concat(pairsToPoints(cd8negBandExtra))
  .concat(rowsToPoints(cd8negUpperRows))
  .concat(pairsToPoints(cd8negUpperExtra))
  .concat(pairsToPoints(midUpper))
  .concat(pairsToPoints(midLower))
  .concat(rowsToPoints(cd8posUpperRows))
  .concat(pairsToPoints(cd8posUpperExtra))
  .concat(rowsToPoints(cd8posLowerRows))
  .concat(pairsToPoints(cd8posLowerExtra));

const logAxis = (fitKey, fitVal) => ({
  type: 'logarithmic', min: 1, max: 10000,
  afterFit: s => { s[fitKey] = fitVal; },
  afterBuildTicks: s => { s.ticks = logTicks.map(t => ({ value: t.value, major: t.major })); },
  grid: {
    drawOnChartArea: false, drawTicks: true, tickLength: 6, tickColor: '#000',
    tickWidth: c => (c.tick && c.tick.major ? 2 : 1.3)
  },
  border: { display: true, color: '#000', width: 2 },
  ticks: { color: '#000', font: { size: 18 }, maxRotation: 0, autoSkip: false, callback: () => '' }
});

new Chart(document.getElementById('chartB'), {
  type: 'scatter',
  data: {
    datasets: [
      { data: events, pointStyle: 'rect', pointRadius: 2.1, backgroundColor: '#000', borderWidth: 0 },
      { data: [{ x: 1, y: gateCD103 }, { x: 10000, y: gateCD103 }], showLine: true, borderColor: '#000', borderWidth: 1.6, pointRadius: 0 },
      { data: [{ x: gateCD8, y: 1 }, { x: gateCD8, y: 10000 }], showLine: true, borderColor: '#000', borderWidth: 1.6, pointRadius: 0 }
    ]
  },
  options: {
    responsive: false, animation: false, devicePixelRatio: 1, events: [],
    layout: { padding: { top: 23, right: 49, left: 0, bottom: 0 } },
    plugins: { legend: { display: false }, tooltip: { enabled: false } },
    scales: {
      x: logAxis('height', 66),
      y: logAxis('width', 80)
    }
  },
  plugins: [flowText]
});
</script>
</body>
</html>
